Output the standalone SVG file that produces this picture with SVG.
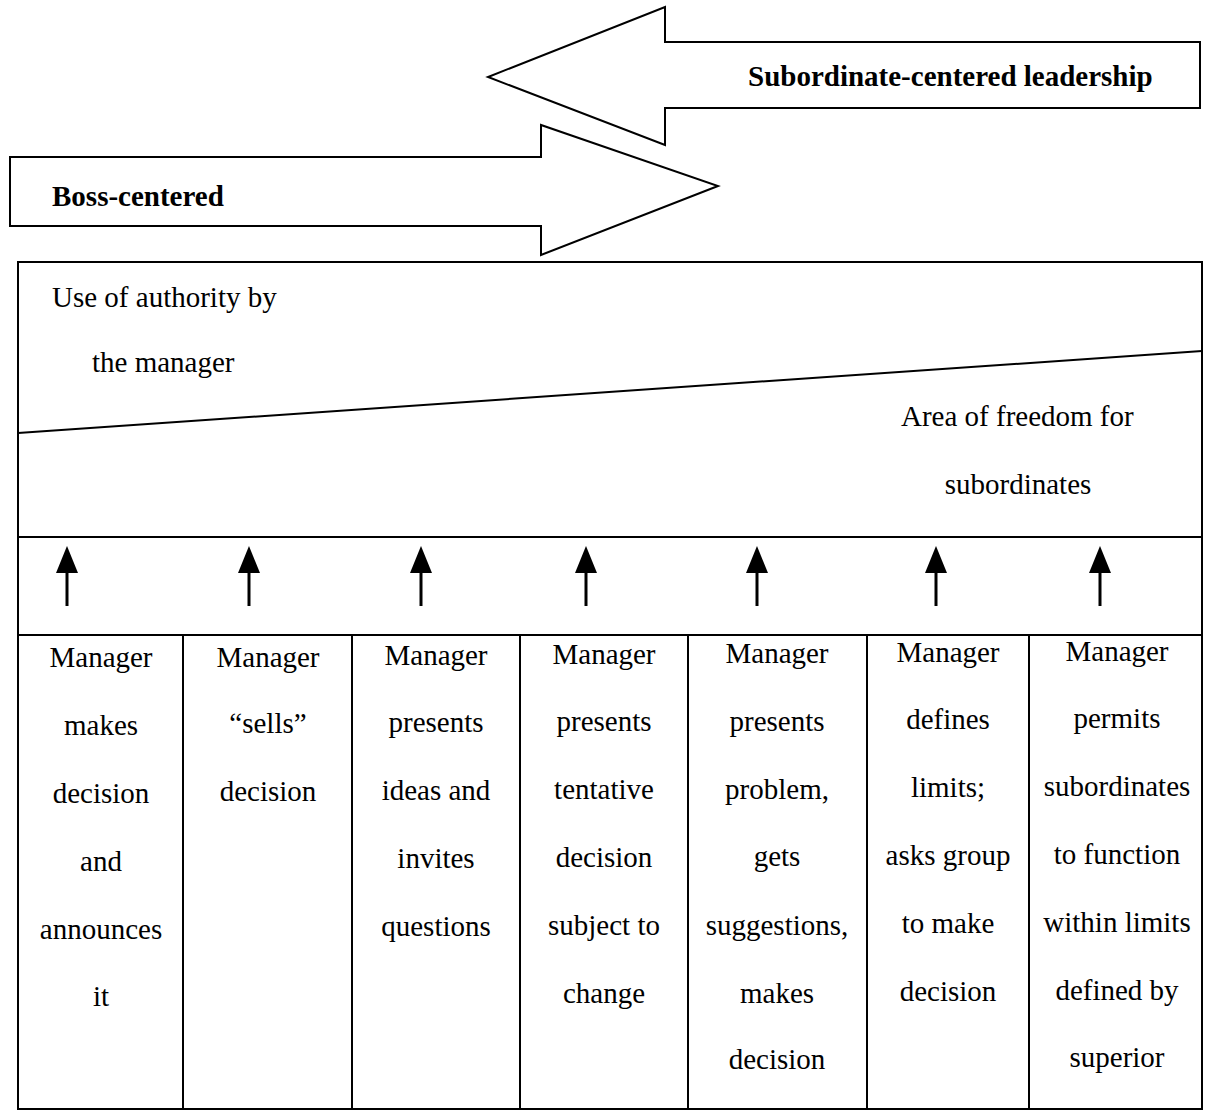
<svg xmlns="http://www.w3.org/2000/svg" width="1205" height="1111" viewBox="0 0 1205 1111">
<style>
.t{font-family:"Liberation Serif","Times New Roman",serif;font-size:29px;fill:#000}
.c{text-anchor:middle}
.b{font-weight:bold}
.ln{stroke:#000;stroke-width:2;fill:none}
.big{stroke:#000;stroke-width:2;fill:#fff;stroke-linejoin:miter}
</style>
<defs>
<g id="up"><line x1="0" y1="570" x2="0" y2="606" stroke="#000" stroke-width="3"/><polygon points="0,546 -11,573 11,573" fill="#000"/></g>
</defs>
<g id="sub-arrow">
<polygon class="big" points="1200,42 665,42 665,7 488,77 665,145 665,108 1200,108"/>
<text class="t b" x="748" y="86">Subordinate-centered leadership</text>
</g>
<g id="boss-arrow">
<polygon class="big" points="10,157 541,157 541,125 718,186 541,255 541,226 10,226"/>
<text class="t b" x="52" y="206">Boss-centered</text>
</g>
<g id="authority-box">
<rect class="ln" x="18" y="262" width="1184" height="847"/>
<line class="ln" x1="18" y1="433" x2="1202" y2="351"/>
<line class="ln" x1="18" y1="537" x2="1202" y2="537"/>
<line class="ln" x1="18" y1="635" x2="1202" y2="635"/>
<text class="t" x="52" y="307">Use of authority by</text>
<text class="t" x="92" y="372">the manager</text>
<text class="t" x="901" y="426">Area of freedom for</text>
<text class="t c" x="1018" y="494">subordinates</text>
</g>
<g id="connectors">
<use href="#up" x="67"/>
<use href="#up" x="249"/>
<use href="#up" x="421"/>
<use href="#up" x="586"/>
<use href="#up" x="757"/>
<use href="#up" x="936"/>
<use href="#up" x="1100"/>
</g>
<g id="col-dividers">
<line class="ln" x1="183" y1="635" x2="183" y2="1109"/>
<line class="ln" x1="352" y1="635" x2="352" y2="1109"/>
<line class="ln" x1="520" y1="635" x2="520" y2="1109"/>
<line class="ln" x1="688" y1="635" x2="688" y2="1109"/>
<line class="ln" x1="867" y1="635" x2="867" y2="1109"/>
<line class="ln" x1="1029" y1="635" x2="1029" y2="1109"/>
</g>
<g id="col1">
<text class="t c" x="101" y="667">Manager</text>
<text class="t c" x="101" y="735">makes</text>
<text class="t c" x="101" y="803">decision</text>
<text class="t c" x="101" y="871">and</text>
<text class="t c" x="101" y="939">announces</text>
<text class="t c" x="101" y="1006">it</text>
</g>
<g id="col2">
<text class="t c" x="268" y="667">Manager</text>
<text class="t c" x="268" y="733">“sells”</text>
<text class="t c" x="268" y="801">decision</text>
</g>
<g id="col3">
<text class="t c" x="436" y="665">Manager</text>
<text class="t c" x="436" y="732">presents</text>
<text class="t c" x="436" y="800">ideas and</text>
<text class="t c" x="436" y="868">invites</text>
<text class="t c" x="436" y="936">questions</text>
</g>
<g id="col4">
<text class="t c" x="604" y="664">Manager</text>
<text class="t c" x="604" y="731">presents</text>
<text class="t c" x="604" y="799">tentative</text>
<text class="t c" x="604" y="867">decision</text>
<text class="t c" x="604" y="935">subject to</text>
<text class="t c" x="604" y="1003">change</text>
</g>
<g id="col5">
<text class="t c" x="777" y="663">Manager</text>
<text class="t c" x="777" y="731">presents</text>
<text class="t c" x="777" y="799">problem,</text>
<text class="t c" x="777" y="866">gets</text>
<text class="t c" x="777" y="935">suggestions,</text>
<text class="t c" x="777" y="1003">makes</text>
<text class="t c" x="777" y="1069">decision</text>
</g>
<g id="col6">
<text class="t c" x="948" y="662">Manager</text>
<text class="t c" x="948" y="729">defines</text>
<text class="t c" x="948" y="797">limits;</text>
<text class="t c" x="948" y="865">asks group</text>
<text class="t c" x="948" y="933">to make</text>
<text class="t c" x="948" y="1001">decision</text>
</g>
<g id="col7">
<text class="t c" x="1117" y="661">Manager</text>
<text class="t c" x="1117" y="728">permits</text>
<text class="t c" x="1117" y="796">subordinates</text>
<text class="t c" x="1117" y="864">to function</text>
<text class="t c" x="1117" y="932">within limits</text>
<text class="t c" x="1117" y="1000">defined by</text>
<text class="t c" x="1117" y="1067">superior</text>
</g>
</svg>
